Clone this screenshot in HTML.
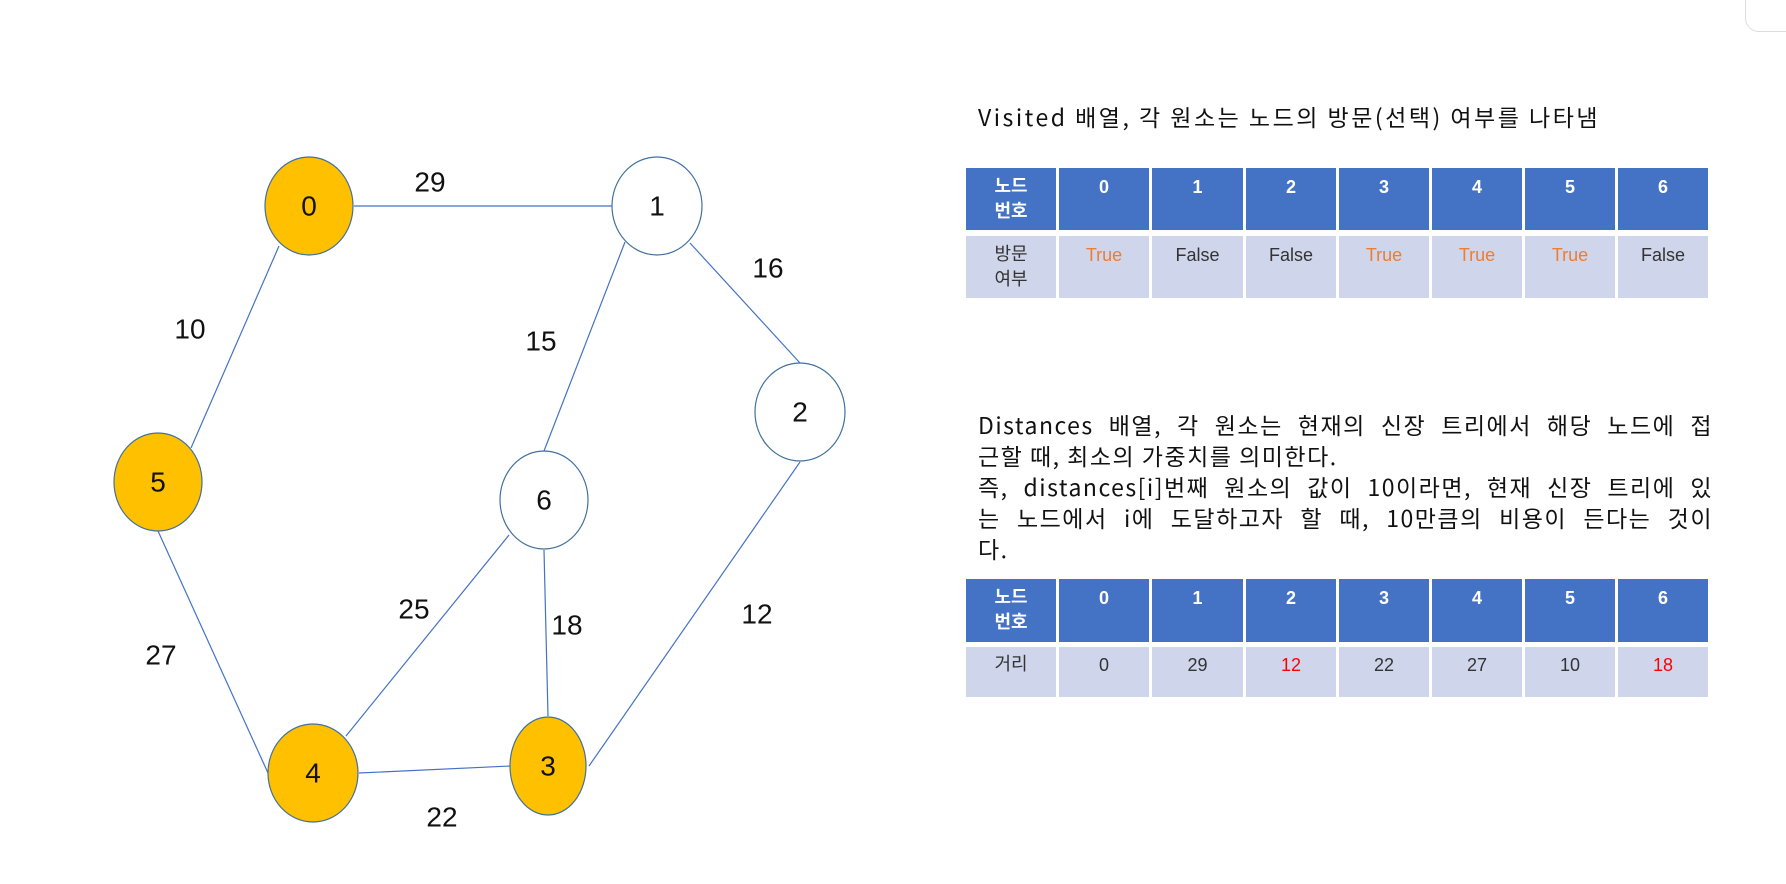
<!DOCTYPE html>
<html><head><meta charset="utf-8"><style>
body{margin:0;width:1786px;height:884px;background:#fff;position:relative;overflow:hidden;font-family:"Liberation Sans","Noto Sans CJK KR",sans-serif;color:#222}
.a{position:absolute}
.c{position:absolute;box-sizing:border-box;text-align:center;font-size:18px;line-height:25px}
.h{background:#4472C4;color:#fff;font-weight:bold}
.b{background:#CFD5EA;color:#333}
.o{color:#ED7D31}.r{color:#f00}
.p{position:absolute;left:978px;width:735px;font-size:23px;line-height:31px;color:#111;font-family:"Noto Sans CJK KR","Liberation Sans",sans-serif;letter-spacing:1.5px}
.p div{text-align:justify;text-align-last:justify;white-space:nowrap;height:31px;overflow:visible}
</style></head><body>
<svg class="a" style="left:0;top:0" width="900" height="884">
<g stroke="#4472C4" stroke-width="1.2">
<line x1="354" y1="206" x2="612" y2="206"/>
<line x1="279" y1="246" x2="191" y2="448"/>
<line x1="625" y1="242" x2="544" y2="451"/>
<line x1="690" y1="243" x2="800" y2="363"/>
<line x1="158" y1="531" x2="268" y2="773"/>
<line x1="509" y1="535" x2="346" y2="736"/>
<line x1="544" y1="550" x2="548" y2="716"/>
<line x1="800" y1="462" x2="589" y2="766"/>
<line x1="359" y1="773" x2="510" y2="766"/>
</g>
<g stroke="#41719C" stroke-width="1.2">
<ellipse cx="309" cy="206" rx="44" ry="49" fill="#FFC000"/>
<ellipse cx="657" cy="206" rx="45" ry="49" fill="#fff"/>
<ellipse cx="800" cy="412" rx="45" ry="49" fill="#fff"/>
<ellipse cx="158" cy="482" rx="44" ry="49" fill="#FFC000"/>
<ellipse cx="544" cy="500" rx="44" ry="49" fill="#fff"/>
<ellipse cx="313" cy="773" rx="45" ry="49" fill="#FFC000"/>
<ellipse cx="548" cy="766" rx="38" ry="49" fill="#FFC000"/>
</g>
<g font-family="Liberation Sans, sans-serif" font-size="28" fill="#111" text-anchor="middle" dominant-baseline="central">
<text x="309" y="206">0</text><text x="657" y="206">1</text><text x="800" y="412">2</text>
<text x="158" y="482">5</text><text x="544" y="500">6</text><text x="313" y="773">4</text><text x="548" y="766">3</text>
<text x="430" y="182">29</text><text x="768" y="268">16</text><text x="190" y="329">10</text>
<text x="541" y="341">15</text><text x="414" y="609">25</text><text x="567" y="625">18</text>
<text x="757" y="614">12</text><text x="161" y="655">27</text><text x="442" y="817">22</text>
</g>
</svg>
<div class="a" style="left:1745px;top:-20px;width:60px;height:50px;border:1px solid #ddd;border-radius:14px"></div>
<div class="a" style="left:978px;top:101px;font-size:23px;line-height:31px;letter-spacing:2.5px;color:#111;white-space:nowrap;font-family:'Noto Sans CJK KR','Liberation Sans',sans-serif">Visited 배열, 각 원소는 노드의 방문(선택) 여부를 나타냄</div>

<div class="c h" style="left:966px;top:168px;width:90px;height:62px;padding-top:6px">노드<br>번호</div>
<div class="c h" style="left:1059px;top:168px;width:90px;height:62px;padding-top:7px">0</div>
<div class="c h" style="left:1152px;top:168px;width:91px;height:62px;padding-top:7px">1</div>
<div class="c h" style="left:1246px;top:168px;width:90px;height:62px;padding-top:7px">2</div>
<div class="c h" style="left:1339px;top:168px;width:90px;height:62px;padding-top:7px">3</div>
<div class="c h" style="left:1432px;top:168px;width:90px;height:62px;padding-top:7px">4</div>
<div class="c h" style="left:1525px;top:168px;width:90px;height:62px;padding-top:7px">5</div>
<div class="c h" style="left:1618px;top:168px;width:90px;height:62px;padding-top:7px">6</div>

<div class="c b" style="left:966px;top:236px;width:90px;height:62px;padding-top:6px">방문<br>여부</div>
<div class="c b o" style="left:1059px;top:236px;width:90px;height:62px;padding-top:7px">True</div>
<div class="c b" style="left:1152px;top:236px;width:91px;height:62px;padding-top:7px">False</div>
<div class="c b" style="left:1246px;top:236px;width:90px;height:62px;padding-top:7px">False</div>
<div class="c b o" style="left:1339px;top:236px;width:90px;height:62px;padding-top:7px">True</div>
<div class="c b o" style="left:1432px;top:236px;width:90px;height:62px;padding-top:7px">True</div>
<div class="c b o" style="left:1525px;top:236px;width:90px;height:62px;padding-top:7px">True</div>
<div class="c b" style="left:1618px;top:236px;width:90px;height:62px;padding-top:7px">False</div>

<div class="p" style="top:409px">
<div>Distances 배열, 각 원소는 현재의 신장 트리에서 해당 노드에 접</div>
<div style="text-align-last:left">근할 때, 최소의 가중치를 의미한다.</div>
<div>즉, distances[i]번째 원소의 값이 10이라면, 현재 신장 트리에 있</div>
<div>는 노드에서 i에 도달하고자 할 때, 10만큼의 비용이 든다는 것이</div>
<div style="text-align-last:left">다.</div>
</div>

<div class="c h" style="left:966px;top:579px;width:90px;height:63px;padding-top:6px">노드<br>번호</div>
<div class="c h" style="left:1059px;top:579px;width:90px;height:63px;padding-top:7px">0</div>
<div class="c h" style="left:1152px;top:579px;width:91px;height:63px;padding-top:7px">1</div>
<div class="c h" style="left:1246px;top:579px;width:90px;height:63px;padding-top:7px">2</div>
<div class="c h" style="left:1339px;top:579px;width:90px;height:63px;padding-top:7px">3</div>
<div class="c h" style="left:1432px;top:579px;width:90px;height:63px;padding-top:7px">4</div>
<div class="c h" style="left:1525px;top:579px;width:90px;height:63px;padding-top:7px">5</div>
<div class="c h" style="left:1618px;top:579px;width:90px;height:63px;padding-top:7px">6</div>

<div class="c b" style="left:966px;top:647px;width:90px;height:50px;padding-top:5px">거리</div>
<div class="c b" style="left:1059px;top:647px;width:90px;height:50px;padding-top:6px">0</div>
<div class="c b" style="left:1152px;top:647px;width:91px;height:50px;padding-top:6px">29</div>
<div class="c b r" style="left:1246px;top:647px;width:90px;height:50px;padding-top:6px">12</div>
<div class="c b" style="left:1339px;top:647px;width:90px;height:50px;padding-top:6px">22</div>
<div class="c b" style="left:1432px;top:647px;width:90px;height:50px;padding-top:6px">27</div>
<div class="c b" style="left:1525px;top:647px;width:90px;height:50px;padding-top:6px">10</div>
<div class="c b r" style="left:1618px;top:647px;width:90px;height:50px;padding-top:6px">18</div>
</body></html>
